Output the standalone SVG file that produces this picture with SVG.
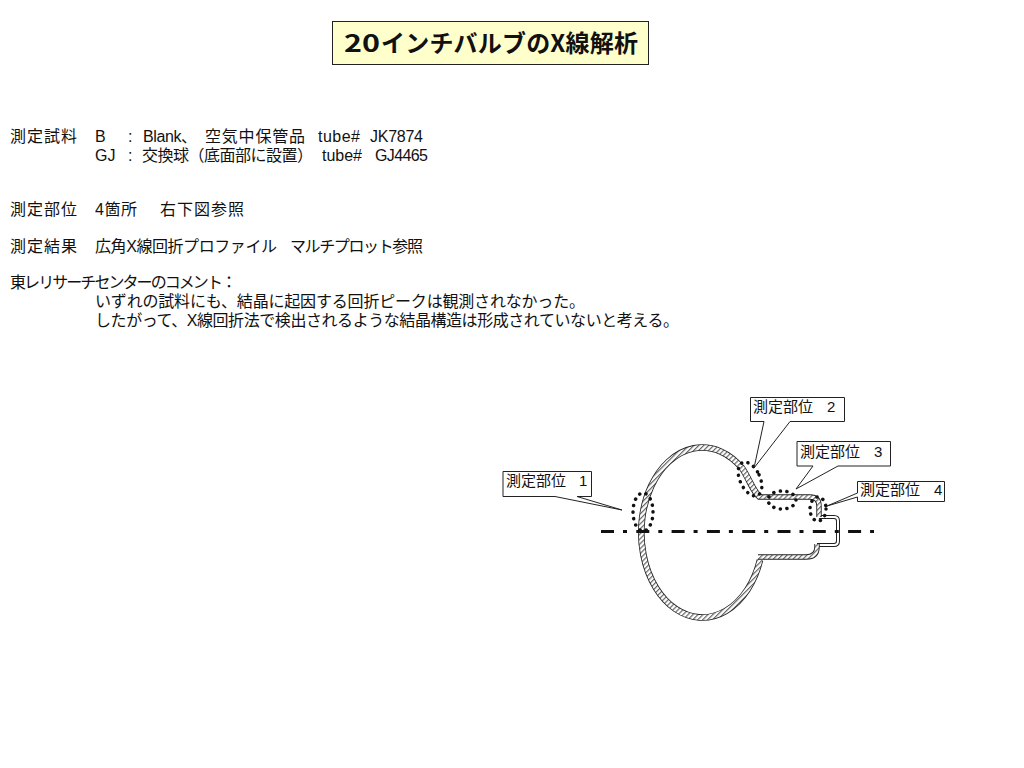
<svg xmlns="http://www.w3.org/2000/svg" width="1024" height="768" viewBox="0 0 1024 768">
<style>
text{font-family:"Liberation Sans","Noto Sans CJK JP",sans-serif;fill:#111}
.t{font-size:16px}
.l{font-size:15px}
.box{fill:#fff;stroke:#222;stroke-width:1}
.w1{fill:none;stroke:#222;stroke-width:6.600;stroke-linejoin:round}
.w2{fill:none;stroke:url(#hatch);stroke-width:5;stroke-linejoin:round}
.n1{fill:none;stroke:#222;stroke-width:5.400;stroke-linejoin:round}
.n2{fill:none;stroke:url(#hatch);stroke-width:3.600;stroke-linejoin:round}
.w4{fill:none;stroke:#222;stroke-width:4;stroke-linejoin:round}
.w5{fill:none;stroke:#fff;stroke-width:2;stroke-linejoin:round}
.dot{fill:none;stroke:#111;stroke-width:3.500;stroke-linecap:round;stroke-dasharray:.1 6.500}
</style>
<defs>
<pattern id="hatch" width="3.500" height="3.500" patternUnits="userSpaceOnUse" patternTransform="rotate(45)">
<rect width="3.500" height="3.500" fill="#fff"/>
<rect width="1.200" height="3.500" fill="#666"/>
</pattern>
<path id="bulb" d="M760 497C753 492 750 480 742 468A61 85 0 1 0 760 560"/>
<path id="neck" d="M758 497H810Q819 497 819 506V517"/>
<path id="neck2" d="M758 557H806Q817 557 817 547V544"/>
<path id="cap" d="M819 517H834Q838 517 838 521V541Q838 545 834 545H817"/>
</defs>
<g id="title">
<rect x="332.500" y="21.500" width="316" height="43" fill="#ffffcc" stroke="#222"/>
<text x="344" y="52" font-size="24" font-weight="700" style="font-family:'Noto Sans CJK JP',sans-serif" textLength="36" lengthAdjust="spacingAndGlyphs">20</text>
<text x="381" y="52" font-size="24" font-weight="700" style="font-family:'Noto Sans CJK JP',sans-serif" textLength="257">インチバルブのX線解析</text>
</g>
<g id="notes" class="t" transform="translate(0 0.800)">
<text x="10" y="141" textLength="67">測定試料</text>
<text x="95" y="141">B</text><text x="128" y="141">:</text>
<text x="143" y="141" textLength="54">Blank、</text>
<text x="205" y="141" textLength="100">空気中保管品</text>
<text x="318" y="141" textLength="42">tube#</text>
<text x="370" y="141" textLength="53">JK7874</text>
<text x="95" y="160">GJ</text><text x="128" y="160">:</text>
<text x="142" y="160" textLength="171">交換球（底面部に設置）</text>
<text x="322" y="160" textLength="40">tube#</text>
<text x="375" y="160" textLength="53">GJ4465</text>
<text x="10" y="214" textLength="67">測定部位</text>
<text x="95" y="214" textLength="42">4箇所</text>
<text x="160" y="214" textLength="84">右下図参照</text>
<text x="10" y="251" textLength="67">測定結果</text>
<text x="95" y="251" textLength="182">広角X線回折プロファイル</text>
<text x="290" y="251" textLength="133">マルチプロット参照</text>
<text x="10" y="287" textLength="227">東レリサーチセンターのコメント：</text>
<text x="95" y="306" textLength="490">いずれの試料にも、結晶に起因する回折ピークは観測されなかった。</text>
<text x="95" y="325" textLength="584">したがって、X線回折法で検出されるような結晶構造は形成されていないと考える。</text>
</g>
<g id="bulb-body">
<use href="#cap" class="w4"/><use href="#cap" class="w5"/>
<use href="#bulb" class="w1"/><use href="#bulb" class="w2"/>
<use href="#neck" class="n1"/><use href="#neck" class="n2"/>
<use href="#neck2" class="n1"/><use href="#neck2" class="n2"/>
</g>
<g id="axis">
<path d="M601 531.500H874" fill="none" stroke="#111" stroke-width="3" stroke-dasharray="13 9 4 9.300"/>
</g>
<g id="markers">
<ellipse class="dot" cx="643" cy="512" rx="10" ry="19"/>
<ellipse class="dot" cx="750" cy="479" rx="10" ry="18" transform="rotate(-25 750 479)"/>
<ellipse class="dot" cx="782" cy="500" rx="14" ry="9"/>
<ellipse class="dot" cx="818" cy="509" rx="8" ry="12"/>
</g>
<g id="callout-1">
<path class="box" d="M503 471.500H591.500V496.500H577L622 510L555 496.500H503Z"/>
<text class="l" x="506" y="486" textLength="60">測定部位</text><text class="l" x="579" y="486">1</text>
</g>
<g id="callout-2">
<path class="box" d="M750.500 397.500H844.500V421.500H790L754 468L764 421.500H750.500Z"/>
<text class="l" x="753" y="411.500" textLength="60">測定部位</text><text class="l" x="827" y="411.500">2</text>
</g>
<g id="callout-3">
<path class="box" d="M797 441.500H890.500V466H838L796 489L813 466H797Z"/>
<text class="l" x="800" y="456.500" textLength="60">測定部位</text><text class="l" x="874" y="456.500">3</text>
</g>
<g id="callout-4">
<path class="box" d="M857.500 481.500H944.500V501.500H857.500V497L827 506L857.500 493Z"/>
<text class="l" x="860" y="495" textLength="60">測定部位</text><text class="l" x="934" y="495">4</text>
</g>
</svg>
